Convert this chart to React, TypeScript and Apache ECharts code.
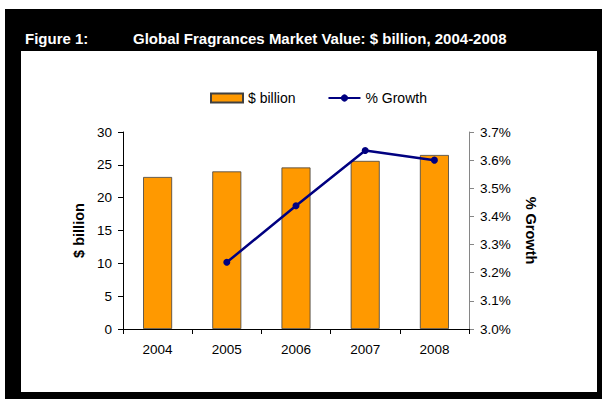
import React, { useEffect, useRef } from "react";
import * as echarts from "echarts";

const years = ["2004", "2005", "2006", "2007", "2008"];
const marketValue = [23.15, 24.0, 24.6, 25.6, 26.5];
const growth: (number | null)[] = [null, 3.237, 3.438, 3.634, 3.6];
const leftTicks = { min: 0, max: 30, interval: 5 };
const rightTicks = { min: 3.0, max: 3.7, interval: 0.1 };
const titleLabel = "Figure 1:";
const titleText = "Global Fragrances Market Value: $ billion, 2004-2008";
const barName = "$ billion";
const lineName = "% Growth";

const FONT = "'Liberation Sans', Arial, sans-serif";

export default function App() {
  const ref = useRef<HTMLDivElement>(null);
  useEffect(() => {
    if (!ref.current) return;
    const chart = echarts.init(ref.current, null, { renderer: "svg" });
    chart.setOption({
      animation: false,
      backgroundColor: "#ffffff",
      textStyle: { fontFamily: FONT },
      graphic: [
        { type: "rect", shape: { x: 5, y: 9, width: 597, height: 390 }, style: { fill: "#000" }, z: -10 },
        { type: "rect", shape: { x: 21, y: 51, width: 576, height: 341 }, style: { fill: "#fff" }, z: -9 },
        {
          type: "text", x: 25, y: 38,
          style: { text: titleLabel, fill: "#fff", font: `bold 15px ${FONT}`, textVerticalAlign: "middle" },
        },
        {
          type: "text", x: 133, y: 38,
          style: { text: titleText, fill: "#fff", font: `bold 15px ${FONT}`, textVerticalAlign: "middle" },
        },
      ],
      legend: {
        left: 205,
        top: 86,
        itemWidth: 32,
        itemHeight: 9,
        itemGap: 32,
        textStyle: { fontSize: 14, color: "#000", fontFamily: FONT },
        data: [
          { name: barName, icon: "rect" },
          { name: lineName },
        ],
      },
      grid: { left: 123, right: 135, top: 132, height: 197, containLabel: false },
      xAxis: {
        type: "category",
        data: years,
        boundaryGap: true,
        axisLine: { lineStyle: { color: "#000", width: 1 } },
        axisTick: { show: true, alignWithLabel: false, length: 5, lineStyle: { color: "#000" } },
        axisLabel: { color: "#000", fontSize: 13.5, margin: 13, fontFamily: FONT },
        splitLine: { show: false },
      },
      yAxis: [
        {
          type: "value",
          min: leftTicks.min,
          max: leftTicks.max,
          interval: leftTicks.interval,
          name: barName,
          nameLocation: "middle",
          nameRotate: 90,
          nameGap: 35,
          nameTextStyle: { fontSize: 14.5, fontWeight: "bold", color: "#000", fontFamily: FONT },
          axisLine: { show: true, lineStyle: { color: "#000", width: 1 } },
          axisTick: { show: true, length: 5, lineStyle: { color: "#000" } },
          axisLabel: { color: "#000", fontSize: 13.5, margin: 11, fontFamily: FONT },
          splitLine: { show: false },
        },
        {
          type: "value",
          position: "right",
          min: rightTicks.min,
          max: rightTicks.max,
          interval: rightTicks.interval,
          name: lineName,
          nameLocation: "middle",
          nameRotate: -90,
          nameGap: 54,
          nameTextStyle: { fontSize: 14.5, fontWeight: "bold", color: "#000", fontFamily: FONT },
          axisLine: { show: true, lineStyle: { color: "#868686", width: 1 } },
          axisTick: { show: true, length: 5, lineStyle: { color: "#868686" } },
          axisLabel: {
            color: "#000",
            fontSize: 13.5,
            margin: 11,
            fontFamily: FONT,
            formatter: (v: number) => v.toFixed(1) + "%",
          },
          splitLine: { show: false },
        },
      ],
      series: [
        {
          name: barName,
          type: "bar",
          data: marketValue,
          barWidth: 29,
          itemStyle: { color: "#FF9900", borderColor: "#404040", borderWidth: 0.8 },
        },
        {
          name: lineName,
          type: "line",
          yAxisIndex: 1,
          data: growth,
          symbol: "circle",
          symbolSize: 7,
          lineStyle: { color: "#000080", width: 2.5 },
          itemStyle: { color: "#000080" },
          z: 5,
        },
      ],
    });
    return () => chart.dispose();
  }, []);
  return (
    <div
      ref={ref}
      style={{ position: "absolute", left: 0, top: 0, width: 604, height: 399 }}
    />
  );
}
